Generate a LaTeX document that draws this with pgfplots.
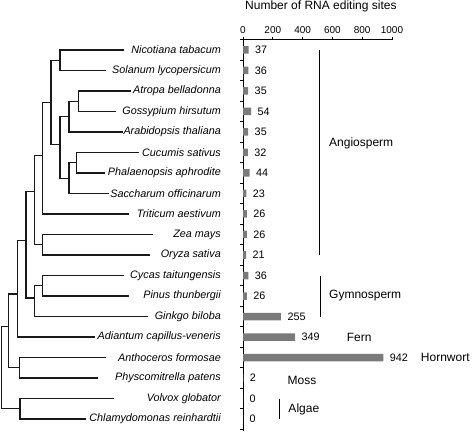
\documentclass[border=0pt]{standalone}
\usepackage{pgfplots}
\pgfplotsset{compat=1.18}
\usepackage{fontspec}
\setmainfont{Liberation Sans}
\definecolor{bargray}{HTML}{7A7A7A}
\begin{document}
\begin{tikzpicture}[x=1pt,y=1pt]
\useasboundingbox (0,0) rectangle (472,432);
% ---------------- tree ----------------
\begin{axis}[at={(0pt,392.25pt)}, anchor=north west, scale only axis,
  width=243pt, height=391.55pt, xmin=0, xmax=243, ymin=-19.6, ymax=-0.5,
  enlargelimits=false,
  hide axis, clip=false, unbounded coords=jump]
\addplot[black!90, line width=1.2pt, line cap=rect, line join=miter, mark=none] coordinates {
 (123.3,-1) (60,-1) (60,-2) (105,-2) (nan,nan)
 (51,-1.5) (60,-1.5) (nan,nan)
 (130,-3) (78.3,-3) (78.3,-4) (115,-4) (nan,nan)
 (69,-3.5) (78.3,-3.5) (nan,nan)
 (122.3,-5) (69,-5) (69,-3.5) (nan,nan)
 (60,-4.25) (69,-4.25) (nan,nan)
 (138.3,-6) (76.7,-6) (76.7,-7) (104.3,-7) (nan,nan)
 (69,-6.5) (76.7,-6.5) (nan,nan)
 (108.3,-8) (69,-8) (69,-6.5) (nan,nan)
 (60,-7.25) (69,-7.25) (nan,nan)
 (60,-4.25) (60,-7.25) (nan,nan)
 (51,-5.6) (60,-5.6) (nan,nan)
 (51,-1.5) (51,-5.6) (nan,nan)
 (42.7,-3.57) (51,-3.57) (nan,nan)
 (128.3,-9) (42.7,-9) (42.7,-3.57) (nan,nan)
 (34.3,-6.15) (42.7,-6.15) (nan,nan)
 (152.7,-10) (42.7,-10) (42.7,-11) (149,-11) (nan,nan)
 (34.3,-10.5) (42.7,-10.5) (nan,nan)
 (34.3,-6.15) (34.3,-10.5) (nan,nan)
 (26,-7.9) (34.3,-7.9) (nan,nan)
 (123.3,-12) (42.7,-12) (42.7,-13) (128.3,-13) (nan,nan)
 (34.3,-12.5) (42.7,-12.5) (nan,nan)
 (147.7,-14) (34.3,-14) (34.3,-12.5) (nan,nan)
 (26,-13.1) (34.3,-13.1) (nan,nan)
 (26,-7.9) (26,-13.1) (nan,nan)
 (17.7,-10.3) (26,-10.3) (nan,nan)
 (94.3,-15) (17.7,-15) (17.7,-10.3) (nan,nan)
 (8.3,-12.9) (17.7,-12.9) (nan,nan)
 (105,-16) (19.3,-16) (19.3,-17) (97.7,-17) (nan,nan)
 (8.3,-16.5) (19.3,-16.5) (nan,nan)
 (8.3,-12.9) (8.3,-16.5) (nan,nan)
 (1.7,-14.5) (8.3,-14.5) (nan,nan)
 (113.3,-18) (20,-18) (20,-19) (85,-19) (nan,nan)
 (1.7,-18.5) (20,-18.5) (nan,nan)
 (1.7,-14.5) (1.7,-18.5)
};
\begin{scope}[every node/.style={anchor=east, inner sep=0pt, font=\fontsize{10.8}{12}\selectfont\itshape}]
\node at (axis cs:221,-1) {Nicotiana tabacum};
\node at (axis cs:221,-2) {Solanum lycopersicum};
\node at (axis cs:221,-3) {Atropa belladonna};
\node at (axis cs:221,-4) {Gossypium hirsutum};
\node at (axis cs:221,-5) {Arabidopsis thaliana};
\node at (axis cs:221,-6) {Cucumis sativus};
\node at (axis cs:221,-7) {Phalaenopsis aphrodite};
\node at (axis cs:221,-8) {Saccharum officinarum};
\node at (axis cs:221,-9) {Triticum aestivum};
\node at (axis cs:221,-10) {Zea mays};
\node at (axis cs:221,-11) {Oryza sativa};
\node at (axis cs:221,-12) {Cycas taitungensis};
\node at (axis cs:221,-13) {Pinus thunbergii};
\node at (axis cs:221,-14) {Ginkgo biloba};
\node at (axis cs:221,-15) {Adiantum capillus-veneris};
\node at (axis cs:221,-16) {Anthoceros formosae};
\node at (axis cs:221,-17) {Physcomitrella patens};
\node at (axis cs:221,-18) {Volvox globator};
\node at (axis cs:221,-19) {Chlamydomonas reinhardtii};
\end{scope}
\end{axis}
% ---------------- bars ----------------
\begin{axis}[at={(243pt,392.25pt)}, anchor=north west, scale only axis,
  width=149pt, height=391.55pt, xmin=0, xmax=1000, ymin=-19.6, ymax=-0.5,
  enlargelimits=false,
  axis x line*=top, axis y line*=left,
  xtick={0,200,400,600,800,1000},
  ytick={-19.5,-18.5,...,-0.5}, yticklabels={},
  tick align=outside, major tick length=3pt,
  tick style={black, line width=0.8pt},
  axis line style={black, line width=0.9pt},
  /pgf/number format/1000 sep={},
  /pgf/number format/assume math mode=true,
  xticklabel style={font=\fontsize{10}{12}\selectfont},
  xbar, bar width=7.5pt,
  nodes near coords,
  nodes near coords style={font=\fontsize{10.8}{12}\selectfont, black, xshift=3pt},
  clip=false]
\addplot[fill=bargray, draw=none] coordinates {
 (37,-1) (36,-2) (35,-3) (54,-4) (35,-5) (32,-6) (44,-7) (23,-8) (26,-9)
 (26,-10) (21,-11) (36,-12) (26,-13) (255,-14) (349,-15) (942,-16)
 (2,-17) (0,-18) (0,-19)
};
\draw[black, line width=1.1pt] (axis cs:512,-1) -- (axis cs:512,-11);
\draw[black, line width=1.1pt] (axis cs:519,-12) -- (axis cs:519,-14);
\draw[black, line width=1.1pt] (axis cs:242,-18) -- (axis cs:242,-19);
\begin{scope}[every node/.style={anchor=west, inner sep=0pt, font=\fontsize{12}{14}\selectfont}]
\node at (axis cs:577,-5.55) {Angiosperm};
\node at (axis cs:577,-12.97) {Gymnosperm};
\node at (axis cs:696,-15) {Fern};
\node at (axis cs:1193,-16) {Hornwort};
\node at (axis cs:298,-17.1) {Moss};
\node at (axis cs:304,-18.53) {Algae};
\end{scope}
\node[inner sep=0pt, font=\fontsize{12}{14}\selectfont] at (axis cs:523,1.15) {Number of RNA editing sites};
\end{axis}
\end{tikzpicture}
\end{document}
